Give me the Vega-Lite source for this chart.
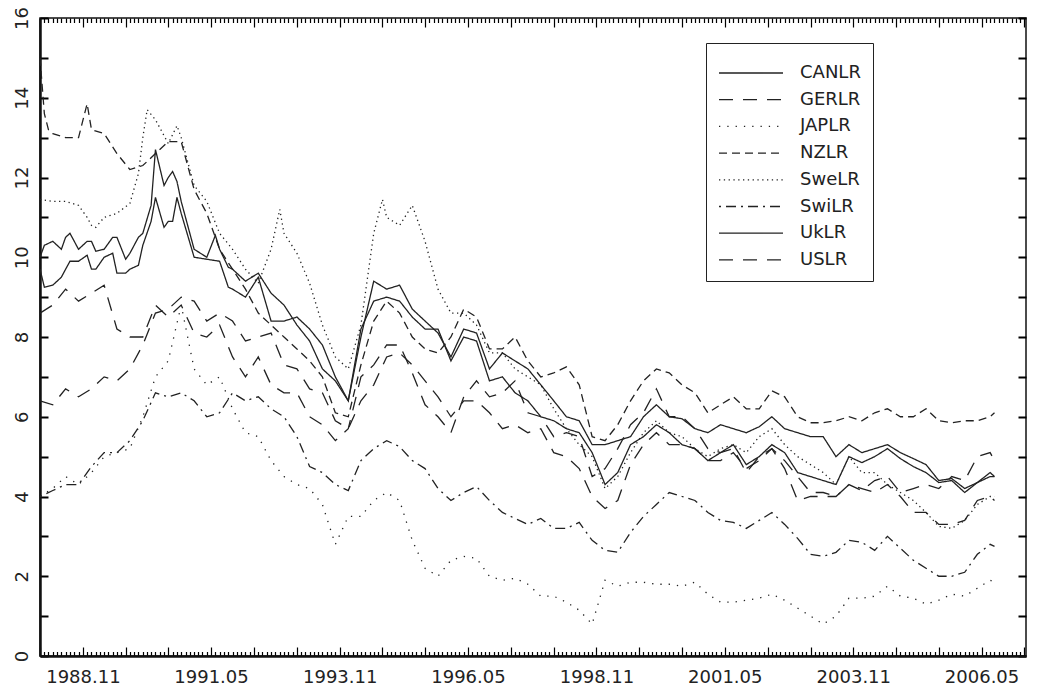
{
"$schema": "https://vega.github.io/schema/vega-lite/v6.json",
"width": 986, "height": 638,
"autosize": {"type": "none"},
"padding": {"left": 40, "top": 18, "right": 12, "bottom": 33},
"background": "white",
"config": {
 "view": {"stroke": "#111", "strokeWidth": 1.5},
 "axis": {"labelFont": "DejaVu Sans", "labelColor": "#222", "domainColor": "#111", "title": null}
},
"data": {"values": [
{"d":"1988-01","CANLR":10.0,"GERLR":6.4,"JAPLR":4.0,"NZLR":15.0,"SweLR":11.45,"SwiLR":4.0,"UkLR":9.7,"USLR":8.6},
{"d":"1988-04","CANLR":10.4,"GERLR":6.3,"JAPLR":4.2,"NZLR":13.1,"SweLR":11.4,"SwiLR":4.15,"UkLR":9.3,"USLR":8.8},
{"d":"1988-07","CANLR":10.5,"GERLR":6.7,"JAPLR":4.5,"NZLR":13.0,"SweLR":11.4,"SwiLR":4.3,"UkLR":9.7,"USLR":9.2},
{"d":"1988-10","CANLR":10.2,"GERLR":6.5,"JAPLR":4.3,"NZLR":13.0,"SweLR":11.3,"SwiLR":4.3,"UkLR":9.9,"USLR":8.9},
{"d":"1989-01","CANLR":10.4,"GERLR":6.7,"JAPLR":4.6,"NZLR":13.2,"SweLR":10.8,"SwiLR":4.75,"UkLR":9.7,"USLR":9.1},
{"d":"1989-04","CANLR":10.2,"GERLR":7.0,"JAPLR":5.0,"NZLR":13.1,"SweLR":11.0,"SwiLR":5.1,"UkLR":10.0,"USLR":9.3},
{"d":"1989-07","CANLR":10.5,"GERLR":6.9,"JAPLR":5.1,"NZLR":12.6,"SweLR":11.1,"SwiLR":5.1,"UkLR":9.6,"USLR":8.2},
{"d":"1989-10","CANLR":10.1,"GERLR":7.2,"JAPLR":5.2,"NZLR":12.2,"SweLR":11.35,"SwiLR":5.4,"UkLR":9.7,"USLR":8.0},
{"d":"1990-01","CANLR":10.6,"GERLR":7.8,"JAPLR":6.0,"NZLR":12.3,"SweLR":13.0,"SwiLR":5.9,"UkLR":10.3,"USLR":8.0},
{"d":"1990-04","CANLR":12.7,"GERLR":8.6,"JAPLR":7.0,"NZLR":12.6,"SweLR":13.45,"SwiLR":6.6,"UkLR":11.5,"USLR":8.8},
{"d":"1990-07","CANLR":12.0,"GERLR":8.7,"JAPLR":7.4,"NZLR":12.9,"SweLR":12.85,"SwiLR":6.5,"UkLR":10.9,"USLR":8.5},
{"d":"1990-10","CANLR":11.4,"GERLR":9.0,"JAPLR":8.8,"NZLR":12.9,"SweLR":13.0,"SwiLR":6.6,"UkLR":11.1,"USLR":8.8},
{"d":"1991-01","CANLR":10.2,"GERLR":8.9,"JAPLR":7.2,"NZLR":11.7,"SweLR":11.8,"SwiLR":6.4,"UkLR":10.0,"USLR":8.1},
{"d":"1991-04","CANLR":10.0,"GERLR":8.4,"JAPLR":6.8,"NZLR":11.1,"SweLR":11.4,"SwiLR":6.0,"UkLR":9.95,"USLR":8.0},
{"d":"1991-07","CANLR":10.2,"GERLR":8.6,"JAPLR":7.0,"NZLR":10.2,"SweLR":10.6,"SwiLR":6.1,"UkLR":9.9,"USLR":8.3},
{"d":"1991-10","CANLR":9.7,"GERLR":8.4,"JAPLR":6.2,"NZLR":9.7,"SweLR":10.2,"SwiLR":6.6,"UkLR":9.2,"USLR":7.5},
{"d":"1992-01","CANLR":9.4,"GERLR":7.9,"JAPLR":5.6,"NZLR":9.2,"SweLR":9.7,"SwiLR":6.4,"UkLR":9.0,"USLR":7.0},
{"d":"1992-04","CANLR":9.6,"GERLR":8.0,"JAPLR":5.5,"NZLR":8.6,"SweLR":9.35,"SwiLR":6.5,"UkLR":9.5,"USLR":7.5},
{"d":"1992-07","CANLR":9.1,"GERLR":8.1,"JAPLR":4.9,"NZLR":8.3,"SweLR":10.2,"SwiLR":6.2,"UkLR":8.4,"USLR":6.8},
{"d":"1992-10","CANLR":8.8,"GERLR":7.3,"JAPLR":4.5,"NZLR":8.0,"SweLR":10.6,"SwiLR":6.0,"UkLR":8.4,"USLR":6.6},
{"d":"1993-01","CANLR":8.3,"GERLR":7.2,"JAPLR":4.3,"NZLR":7.7,"SweLR":10.1,"SwiLR":5.5,"UkLR":8.5,"USLR":6.6},
{"d":"1993-04","CANLR":7.9,"GERLR":6.7,"JAPLR":4.2,"NZLR":7.4,"SweLR":9.35,"SwiLR":4.75,"UkLR":8.2,"USLR":6.0},
{"d":"1993-07","CANLR":7.2,"GERLR":6.6,"JAPLR":3.8,"NZLR":7.0,"SweLR":8.3,"SwiLR":4.6,"UkLR":7.8,"USLR":5.8},
{"d":"1993-10","CANLR":6.9,"GERLR":5.9,"JAPLR":2.8,"NZLR":6.1,"SweLR":7.5,"SwiLR":4.3,"UkLR":7.0,"USLR":5.4},
{"d":"1994-01","CANLR":6.4,"GERLR":5.7,"JAPLR":3.5,"NZLR":6.0,"SweLR":7.2,"SwiLR":4.15,"UkLR":6.4,"USLR":5.7},
{"d":"1994-04","CANLR":8.0,"GERLR":6.4,"JAPLR":3.5,"NZLR":7.3,"SweLR":8.3,"SwiLR":4.9,"UkLR":8.2,"USLR":7.0},
{"d":"1994-07","CANLR":9.4,"GERLR":6.8,"JAPLR":3.9,"NZLR":8.4,"SweLR":10.6,"SwiLR":5.2,"UkLR":8.9,"USLR":7.3},
{"d":"1994-10","CANLR":9.2,"GERLR":7.5,"JAPLR":4.1,"NZLR":8.9,"SweLR":11.0,"SwiLR":5.4,"UkLR":9.0,"USLR":7.8},
{"d":"1995-01","CANLR":9.3,"GERLR":7.6,"JAPLR":3.9,"NZLR":8.6,"SweLR":10.8,"SwiLR":5.25,"UkLR":8.9,"USLR":7.8},
{"d":"1995-04","CANLR":8.7,"GERLR":7.3,"JAPLR":2.9,"NZLR":8.0,"SweLR":11.3,"SwiLR":4.9,"UkLR":8.5,"USLR":7.1},
{"d":"1995-07","CANLR":8.4,"GERLR":6.9,"JAPLR":2.2,"NZLR":7.7,"SweLR":10.4,"SwiLR":4.7,"UkLR":8.2,"USLR":6.3},
{"d":"1995-10","CANLR":8.1,"GERLR":6.5,"JAPLR":2.0,"NZLR":7.6,"SweLR":9.2,"SwiLR":4.2,"UkLR":8.2,"USLR":6.0},
{"d":"1996-01","CANLR":7.5,"GERLR":6.0,"JAPLR":2.4,"NZLR":8.0,"SweLR":8.6,"SwiLR":3.9,"UkLR":7.4,"USLR":5.6},
{"d":"1996-04","CANLR":8.2,"GERLR":6.4,"JAPLR":2.5,"NZLR":8.7,"SweLR":8.6,"SwiLR":4.1,"UkLR":8.0,"USLR":6.5},
{"d":"1996-07","CANLR":8.1,"GERLR":6.4,"JAPLR":2.45,"NZLR":8.5,"SweLR":8.3,"SwiLR":4.25,"UkLR":7.9,"USLR":6.9},
{"d":"1996-10","CANLR":7.2,"GERLR":6.1,"JAPLR":2.0,"NZLR":7.7,"SweLR":7.6,"SwiLR":3.9,"UkLR":6.9,"USLR":6.5},
{"d":"1997-01","CANLR":7.6,"GERLR":5.7,"JAPLR":1.9,"NZLR":7.7,"SweLR":7.6,"SwiLR":3.6,"UkLR":7.0,"USLR":6.6},
{"d":"1997-04","CANLR":7.4,"GERLR":5.8,"JAPLR":1.95,"NZLR":8.0,"SweLR":7.2,"SwiLR":3.45,"UkLR":6.6,"USLR":6.9},
{"d":"1997-07","CANLR":7.2,"GERLR":5.6,"JAPLR":1.8,"NZLR":7.4,"SweLR":7.0,"SwiLR":3.3,"UkLR":6.4,"USLR":6.1},
{"d":"1997-10","CANLR":6.8,"GERLR":5.7,"JAPLR":1.5,"NZLR":7.0,"SweLR":6.8,"SwiLR":3.45,"UkLR":6.0,"USLR":6.0},
{"d":"1998-01","CANLR":6.4,"GERLR":5.1,"JAPLR":1.5,"NZLR":7.1,"SweLR":6.2,"SwiLR":3.2,"UkLR":5.9,"USLR":5.5},
{"d":"1998-04","CANLR":6.0,"GERLR":5.0,"JAPLR":1.35,"NZLR":7.25,"SweLR":5.7,"SwiLR":3.2,"UkLR":5.7,"USLR":5.6},
{"d":"1998-07","CANLR":5.9,"GERLR":4.7,"JAPLR":1.15,"NZLR":6.8,"SweLR":5.3,"SwiLR":3.35,"UkLR":5.6,"USLR":5.5},
{"d":"1998-10","CANLR":5.3,"GERLR":4.0,"JAPLR":0.8,"NZLR":5.5,"SweLR":5.0,"SwiLR":2.9,"UkLR":5.1,"USLR":4.5},
{"d":"1999-01","CANLR":5.3,"GERLR":3.7,"JAPLR":1.9,"NZLR":5.4,"SweLR":4.2,"SwiLR":2.65,"UkLR":4.3,"USLR":4.7},
{"d":"1999-04","CANLR":5.4,"GERLR":3.9,"JAPLR":1.75,"NZLR":5.8,"SweLR":4.5,"SwiLR":2.6,"UkLR":4.6,"USLR":5.2},
{"d":"1999-07","CANLR":5.5,"GERLR":4.8,"JAPLR":1.85,"NZLR":6.4,"SweLR":5.1,"SwiLR":3.1,"UkLR":5.3,"USLR":5.8},
{"d":"1999-10","CANLR":6.0,"GERLR":5.3,"JAPLR":1.85,"NZLR":6.9,"SweLR":5.6,"SwiLR":3.5,"UkLR":5.5,"USLR":6.1},
{"d":"2000-01","CANLR":6.3,"GERLR":5.6,"JAPLR":1.8,"NZLR":7.2,"SweLR":5.9,"SwiLR":3.8,"UkLR":5.8,"USLR":6.7},
{"d":"2000-04","CANLR":6.0,"GERLR":5.3,"JAPLR":1.8,"NZLR":7.1,"SweLR":5.6,"SwiLR":4.1,"UkLR":5.6,"USLR":6.0},
{"d":"2000-07","CANLR":5.95,"GERLR":5.3,"JAPLR":1.75,"NZLR":6.8,"SweLR":5.5,"SwiLR":4.0,"UkLR":5.3,"USLR":6.0},
{"d":"2000-10","CANLR":5.7,"GERLR":5.2,"JAPLR":1.85,"NZLR":6.6,"SweLR":5.2,"SwiLR":3.9,"UkLR":5.2,"USLR":5.7},
{"d":"2001-01","CANLR":5.6,"GERLR":4.9,"JAPLR":1.55,"NZLR":6.1,"SweLR":5.0,"SwiLR":3.6,"UkLR":4.9,"USLR":5.2},
{"d":"2001-04","CANLR":5.8,"GERLR":4.9,"JAPLR":1.35,"NZLR":6.3,"SweLR":5.2,"SwiLR":3.4,"UkLR":5.1,"USLR":5.1},
{"d":"2001-07","CANLR":5.7,"GERLR":5.1,"JAPLR":1.35,"NZLR":6.5,"SweLR":5.3,"SwiLR":3.35,"UkLR":5.3,"USLR":5.2},
{"d":"2001-10","CANLR":5.6,"GERLR":4.7,"JAPLR":1.4,"NZLR":6.2,"SweLR":5.1,"SwiLR":3.2,"UkLR":4.8,"USLR":4.6},
{"d":"2002-01","CANLR":5.75,"GERLR":4.9,"JAPLR":1.45,"NZLR":6.2,"SweLR":5.5,"SwiLR":3.4,"UkLR":5.0,"USLR":5.0},
{"d":"2002-04","CANLR":6.0,"GERLR":5.2,"JAPLR":1.55,"NZLR":6.65,"SweLR":5.7,"SwiLR":3.6,"UkLR":5.3,"USLR":5.2},
{"d":"2002-07","CANLR":5.7,"GERLR":4.9,"JAPLR":1.4,"NZLR":6.5,"SweLR":5.3,"SwiLR":3.3,"UkLR":5.1,"USLR":4.7},
{"d":"2002-10","CANLR":5.6,"GERLR":4.5,"JAPLR":1.2,"NZLR":6.0,"SweLR":5.0,"SwiLR":2.95,"UkLR":4.6,"USLR":3.9},
{"d":"2003-01","CANLR":5.5,"GERLR":4.1,"JAPLR":1.0,"NZLR":5.85,"SweLR":4.8,"SwiLR":2.55,"UkLR":4.5,"USLR":4.0},
{"d":"2003-04","CANLR":5.5,"GERLR":4.1,"JAPLR":0.8,"NZLR":5.85,"SweLR":4.6,"SwiLR":2.5,"UkLR":4.4,"USLR":4.0},
{"d":"2003-07","CANLR":5.0,"GERLR":4.0,"JAPLR":1.0,"NZLR":5.9,"SweLR":4.3,"SwiLR":2.6,"UkLR":4.3,"USLR":4.0},
{"d":"2003-10","CANLR":5.3,"GERLR":4.3,"JAPLR":1.45,"NZLR":6.0,"SweLR":5.0,"SwiLR":2.9,"UkLR":5.0,"USLR":4.3},
{"d":"2004-01","CANLR":5.1,"GERLR":4.2,"JAPLR":1.45,"NZLR":5.9,"SweLR":4.6,"SwiLR":2.85,"UkLR":4.85,"USLR":4.15},
{"d":"2004-04","CANLR":5.2,"GERLR":4.1,"JAPLR":1.5,"NZLR":6.1,"SweLR":4.6,"SwiLR":2.65,"UkLR":5.0,"USLR":4.4},
{"d":"2004-07","CANLR":5.3,"GERLR":4.3,"JAPLR":1.75,"NZLR":6.2,"SweLR":4.3,"SwiLR":3.0,"UkLR":5.2,"USLR":4.5},
{"d":"2004-10","CANLR":5.1,"GERLR":4.0,"JAPLR":1.5,"NZLR":6.0,"SweLR":4.1,"SwiLR":2.7,"UkLR":4.95,"USLR":4.1},
{"d":"2005-01","CANLR":4.95,"GERLR":3.6,"JAPLR":1.45,"NZLR":6.0,"SweLR":3.9,"SwiLR":2.4,"UkLR":4.75,"USLR":4.2},
{"d":"2005-04","CANLR":4.8,"GERLR":3.6,"JAPLR":1.3,"NZLR":6.2,"SweLR":3.6,"SwiLR":2.2,"UkLR":4.6,"USLR":4.3},
{"d":"2005-07","CANLR":4.4,"GERLR":3.3,"JAPLR":1.4,"NZLR":5.9,"SweLR":3.25,"SwiLR":2.0,"UkLR":4.35,"USLR":4.2},
{"d":"2005-10","CANLR":4.45,"GERLR":3.3,"JAPLR":1.55,"NZLR":5.85,"SweLR":3.2,"SwiLR":2.0,"UkLR":4.4,"USLR":4.5},
{"d":"2006-01","CANLR":4.2,"GERLR":3.4,"JAPLR":1.5,"NZLR":5.9,"SweLR":3.4,"SwiLR":2.1,"UkLR":4.1,"USLR":4.4},
{"d":"2006-04","CANLR":4.35,"GERLR":3.9,"JAPLR":1.7,"NZLR":5.9,"SweLR":3.8,"SwiLR":2.55,"UkLR":4.35,"USLR":5.0},
{"d":"2006-07","CANLR":4.5,"GERLR":4.0,"JAPLR":1.9,"NZLR":6.0,"SweLR":4.0,"SwiLR":2.8,"UkLR":4.6,"USLR":5.1},
{"d":"2006-08","CANLR":4.5,"GERLR":3.9,"JAPLR":1.85,"NZLR":6.1,"SweLR":4.0,"SwiLR":2.75,"UkLR":4.5,"USLR":4.9},
{"d":"1988-02","CANLR":10.3,"UkLR":9.25,"NZLR":13.6},
{"d":"1988-03","NZLR":13.2},
{"d":"1988-06","CANLR":10.2,"UkLR":9.5},
{"d":"1988-08","CANLR":10.6,"UkLR":9.9},
{"d":"1988-12","CANLR":10.4,"UkLR":10.05,"NZLR":13.85,"SweLR":11.0},
{"d":"1989-02","CANLR":10.15,"UkLR":9.7,"SweLR":10.75},
{"d":"1989-06","CANLR":10.5,"UkLR":10.1},
{"d":"1989-09","CANLR":9.95,"UkLR":9.6},
{"d":"1989-12","CANLR":10.5,"UkLR":9.8,"SweLR":12.1},
{"d":"1990-02","SweLR":13.7},
{"d":"1990-03","CANLR":11.3,"UkLR":10.9},
{"d":"1990-06","CANLR":11.8,"UkLR":10.75},
{"d":"1990-08","CANLR":12.15,"UkLR":10.9},
{"d":"1990-09","CANLR":11.9,"UkLR":11.5,"SweLR":13.3},
{"d":"1991-06","CANLR":10.55},
{"d":"1991-09","CANLR":9.75,"UkLR":9.25},
{"d":"1992-09","SweLR":11.2},
{"d":"1994-09","SweLR":11.45}
]},
"transform": [{"fold": ["CANLR","GERLR","JAPLR","NZLR","SweLR","SwiLR","UkLR","USLR"], "as": ["series","value"]}],
"mark": {"type": "line", "strokeWidth": 1.3, "color": "#222", "strokeCap": "butt", "invalid": "filter"},
"encoding": {
 "x": {"field": "d", "type": "temporal",
   "scale": {"type": "utc", "domain": [{"year":1988,"month":1,"date":1,"utc":true},{"year":2007,"month":3,"date":13,"utc":true}]},
   "axis": {"orient": "bottom", "tickCount": {"interval": "month", "step": 1}, "ticks": false,
     "grid": true, "gridColor": "#000", "gridOpacity": 1, "gridWidth": 1.2,
     "gridDash": {"condition": {"test": "(utcyear(datum.value)*12+utcmonth(datum.value)-23866)%10==0", "value": [9,620,9,1000]}, "value": [4.5,629,4.5,1000]},
     "domainWidth": 2.5,
     "labelExpr": "(utcyear(datum.value)*12+utcmonth(datum.value)-23866)%30==0 ? utcFormat(datum.value,'%Y.%m') : ''",
     "labelFontSize": 18, "labelPadding": 12, "labelOverlap": false, "labelFlush": false, "labelBound": false}},
 "y": {"field": "value", "type": "quantitative",
   "scale": {"domain": [0,16], "nice": false, "zero": false},
   "axis": {"orient": "left", "values": [0,1,2,3,4,5,6,7,8,9,10,11,12,13,14,15,16], "ticks": false,
     "grid": true, "gridColor": "#000", "gridOpacity": 1, "gridWidth": 2, "gridDash": [8,970,8,1000],
     "domainWidth": 2.5,
     "labelExpr": "datum.value % 2 == 0 ? datum.label : ''", "labelAngle": -90, "labelAlign": "center", "labelBaseline": "alphabetic",
     "labelFontSize": 18, "labelPadding": 13, "labelOverlap": false}},
 "strokeDash": {"field": "series", "type": "nominal",
   "scale": {"domain": ["CANLR","GERLR","JAPLR","NZLR","SweLR","SwiLR","UkLR","USLR"],
     "range": [[1,0],[14,10],[1.3,7],[8,5],[1.3,3.5],[2,5,10,5],[1,0],[14,10]]},
   "legend": {"orient": "none", "legendX": 666, "legendY": 25, "title": " ", "titleFontSize": 6, "titlePadding": 3,
     "strokeColor": "#222", "fillColor": "white", "padding": 12,
     "symbolType": "stroke", "symbolSize": 4096, "symbolStrokeWidth": 1.3, "symbolStrokeColor": "#222",
     "clipHeight": 18, "labelFont": "DejaVu Sans", "labelFontSize": 18, "labelColor": "#222", "labelOffset": 16, "rowPadding": 8.7}}
}
}
